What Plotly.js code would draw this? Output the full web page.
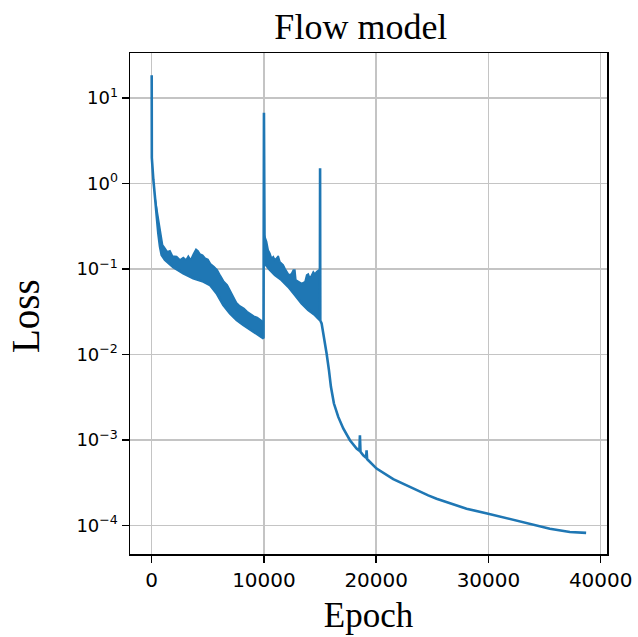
<!DOCTYPE html>
<html>
<head>
<meta charset="utf-8">
<script src="https://cdn.plot.ly/plotly-3.0.1.min.js"></script>
<style>html,body{margin:0;padding:0;background:#fff;}#chart{width:638px;height:637px;}</style>
</head>
<body>
<div id="chart"></div>
<script>
// Main loss curve (lower edge of the noisy bands, spikes and the final descent)
const curveEpoch = [0, 12, 150, 300, 383, 590, 739, 888, 1184, 1926, 2817, 3707, 4598, 5192, 5786, 6379, 6973, 7566, 8160, 8754, 9347, 9960,
  10000, 10030, 10060, 10535, 10980, 11574, 12167, 12761, 13355, 13948, 14542, 14980,
  15000, 15020, 15136, 15344, 15581, 15789, 15967, 16234, 16620, 17065, 17659, 18253, 18500, 18549, 18600, 18846, 19100, 19143, 19190, 19291,
  20034, 21518, 23002, 24634, 25377, 28048, 29977, 32501, 35470, 37250, 38700];
const curveLoss = [18.5, 2.0, 1.1, 0.68, 0.45, 0.262, 0.183, 0.146, 0.128, 0.105, 0.0892, 0.078, 0.0713, 0.0651, 0.052, 0.038, 0.0303, 0.0253, 0.0222, 0.0197, 0.0177, 0.0155,
  6.7, 0.25, 0.117, 0.0977, 0.0853, 0.0745, 0.0622, 0.0498, 0.0397, 0.0332, 0.029, 0.0254,
  1.51, 0.025, 0.0232, 0.0162, 0.0103, 0.00658, 0.0042, 0.00268, 0.00187, 0.00137, 0.000997, 0.000796, 0.00075, 0.00114, 0.00073, 0.000665, 0.00062, 0.000762, 0.0006, 0.000582,
  0.000465, 0.00035, 0.000283, 0.000226, 0.000207, 0.000158, 0.000138, 0.000115, 0.0000922, 0.0000843, 0.0000825];

// Upper edge of the oscillation band, stage 1 (0 - 10000 epochs)
const band1UpperEpoch = [300, 502, 680, 799, 977, 1184, 1392, 1630, 1867, 2224, 2520, 2817, 3054, 3262, 3470, 3707, 3945, 4123, 4301, 4539, 4776, 5014, 5251, 5548, 5845, 6142, 6439, 6735, 6973, 7269, 7566, 7863, 8219, 8516, 8813, 9110, 9407, 9704, 9941];
const band1Upper = [0.68, 0.45, 0.314, 0.24, 0.191, 0.175, 0.16, 0.164, 0.142, 0.14, 0.128, 0.137, 0.128, 0.142, 0.128, 0.15, 0.171, 0.164, 0.15, 0.146, 0.134, 0.13, 0.115, 0.107, 0.0977, 0.083, 0.0713, 0.0651, 0.0569, 0.0475, 0.0404, 0.037, 0.0347, 0.0318, 0.0298, 0.0282, 0.0272, 0.0258, 0.0242];

// Upper edge of the oscillation band, stage 2 (10000 - 15000 epochs)
const band2UpperEpoch = [10030, 10238, 10386, 10535, 10683, 10831, 10980, 11129, 11277, 11425, 11574, 11722, 11870, 12019, 12167, 12316, 12464, 12612, 12761, 12850, 13057, 13355, 13652, 13800, 13948, 14097, 14245, 14393, 14542, 14690, 14898, 14980];
const band2Upper = [0.251, 0.21, 0.167, 0.153, 0.134, 0.14, 0.128, 0.134, 0.142, 0.122, 0.117, 0.112, 0.102, 0.0933, 0.0877, 0.0853, 0.0892, 0.0977, 0.0977, 0.0745, 0.0713, 0.0681, 0.0713, 0.0853, 0.0877, 0.078, 0.0853, 0.0933, 0.0877, 0.0933, 0.0977, 0.0977];

const xTicks = [0, 10000, 20000, 30000, 40000];
const yExponents = [1, 0, -1, -2, -3, -4];

const COLOR = '#1f77b4';
const X_RANGE = [-1933, 40560];
const Y_RANGE = [-4.331, 1.526];

function slice(lo, hi) {
  const xs = [], ys = [];
  curveEpoch.forEach((e, i) => { if (e >= lo && e <= hi) { xs.push(e); ys.push(curveLoss[i]); } });
  return {xs, ys};
}
const b1 = slice(300, 9960);
const b2 = slice(10060, 14980);

const yTickVals = yExponents.map(p => Math.pow(10, p));
const yTickText = yExponents.map(p => '10<sup>' + String(p).replace('-', '\u2212') + '</sup>');
const yMinorVals = [];
for (let p = -5; p <= 1; p++) for (let d = 2; d <= 9; d++) {
  const v = d * Math.pow(10, p);
  if (Math.log10(v) >= Y_RANGE[0] && Math.log10(v) <= Y_RANGE[1]) yMinorVals.push(v);
}
// minor tick comb sits just outside the left spine (about 2.6 px left of it)
const pxPerEpoch = 477 / (X_RANGE[1] - X_RANGE[0]);
const minorX = X_RANGE[0] - 2.6 / pxPerEpoch;

const traces = [
  {x: b1.xs, y: b1.ys, mode: 'lines', line: {color: COLOR, width: 0}, showlegend: false, hoverinfo: 'skip'},
  {x: band1UpperEpoch, y: band1Upper, mode: 'lines', fill: 'tonexty', fillcolor: COLOR, line: {color: COLOR, width: 1.5}, showlegend: false},
  {x: b2.xs, y: b2.ys, mode: 'lines', line: {color: COLOR, width: 0}, showlegend: false, hoverinfo: 'skip'},
  {x: band2UpperEpoch, y: band2Upper, mode: 'lines', fill: 'tonexty', fillcolor: COLOR, line: {color: COLOR, width: 1.5}, showlegend: false},
  {x: curveEpoch, y: curveLoss, mode: 'lines', line: {color: COLOR, width: 2.6}, showlegend: false},
  {x: yMinorVals.map(() => minorX), y: yMinorVals, mode: 'markers', cliponaxis: false,
   marker: {symbol: 'line-ew', size: 5, color: '#000', line: {color: '#000', width: 1.2}},
   showlegend: false, hoverinfo: 'skip'}
];

const layout = {
  width: 638, height: 637,
  margin: {l: 130, r: 31, t: 53, b: 83},
  paper_bgcolor: '#ffffff', plot_bgcolor: '#ffffff',
  showlegend: false,
  title: {text: 'Flow model', font: {family: 'Liberation Serif', size: 36, color: '#000'},
          x: 0.484, xref: 'paper', xanchor: 'center', y: 0.959, yanchor: 'middle', yref: 'container'},
  xaxis: {
    range: X_RANGE,
    tickmode: 'array', tickvals: xTicks, ticktext: xTicks.map(String),
    ticks: 'outside', ticklen: 7, tickwidth: 1.5, tickcolor: '#000',
    showline: true, linecolor: '#000', linewidth: 1.5, mirror: true,
    showgrid: true, gridcolor: '#c4c4c4', gridwidth: 1.5, zeroline: false,
    tickfont: {family: 'DejaVu Sans', size: 20, color: '#000'},
    title: {text: 'Epoch', font: {family: 'Liberation Serif', size: 35, color: '#000'}, standoff: 12}
  },
  yaxis: {
    type: 'log', range: Y_RANGE,
    tickmode: 'array', tickvals: yTickVals, ticktext: yTickText,
    ticks: 'outside', ticklen: 7, tickwidth: 1.5, tickcolor: '#000',
    showline: true, linecolor: '#000', linewidth: 1.5, mirror: true,
    showgrid: true, gridcolor: '#c4c4c4', gridwidth: 1.5, zeroline: false,
    tickfont: {family: 'DejaVu Sans', size: 18, color: '#000'}
  },
  annotations: [{
    text: 'Loss', textangle: -90, showarrow: false,
    xref: 'paper', yref: 'paper', x: -0.22, y: 0.475, xanchor: 'center', yanchor: 'middle',
    font: {family: 'Liberation Serif', size: 39, color: '#000'}
  }]
};

Plotly.newPlot('chart', traces, layout, {displayModeBar: false, staticPlot: true});
</script>
</body>
</html>
